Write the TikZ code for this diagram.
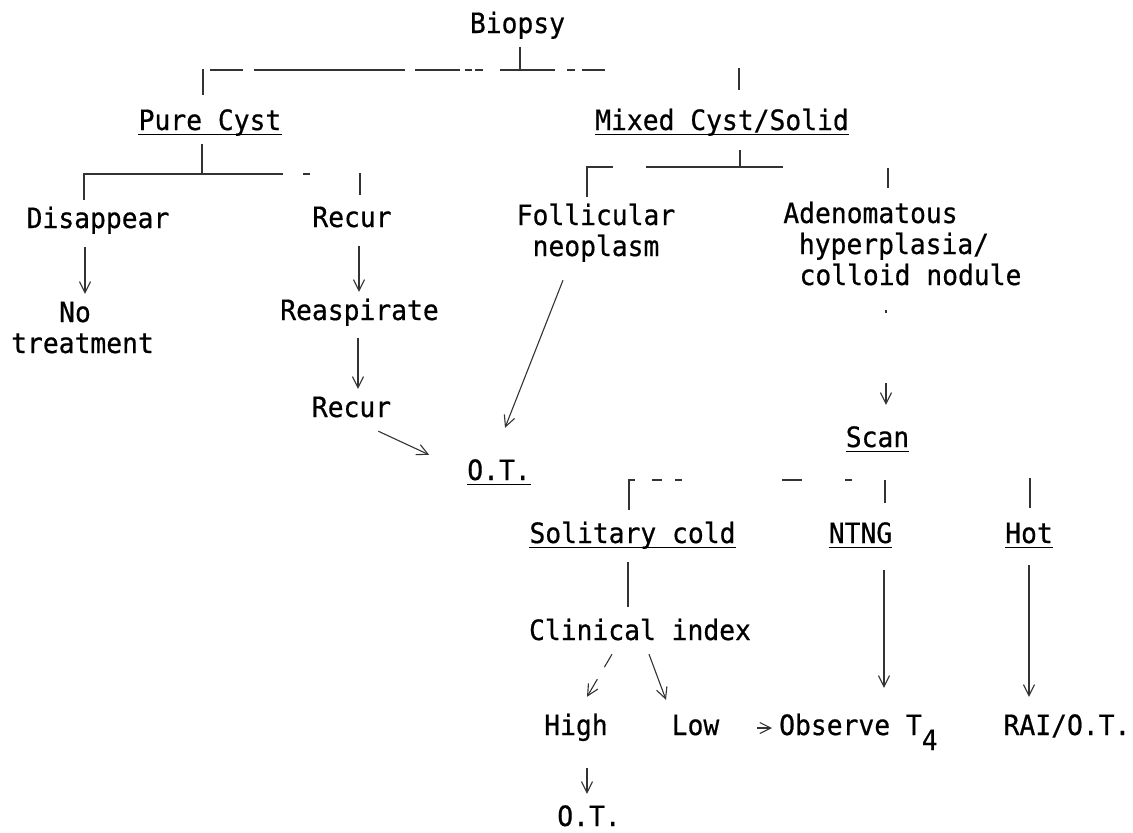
\documentclass[tikz,border=0pt]{standalone}
\usepackage{fontspec}
\newfontfamily\tw[FakeStretch=0.94,FakeBold=0.6]{DejaVu Sans Mono}
\usetikzlibrary{arrows.meta}
\begin{document}
\begin{tikzpicture}[x=1bp,y=-1bp,
  txt/.style={font=\tw\fontsize{28bp}{31bp}\selectfont, inner xsep=0pt, inner ysep=8bp,
              text height=20bp, text depth=6bp, anchor=base},
  ln/.style={line width=1.1bp, draw=black!80},
  arr/.style={ln, -{Straight Barb[length=11bp,width=11bp]}},
  ulline/.style={line width=1.8bp, draw=black}]
\fill[white] (0,0) rectangle (1133,833);
\useasboundingbox (0,0) rectangle (1133,833);

% ---- text nodes ----
\node[txt] (biopsy) at (517.5,33) {Biopsy};
\node[txt] (pure) at (210,130) {Pure Cyst};
\node[txt] (mixed) at (722,130) {Mixed Cyst/Solid};
\node[txt] (disappear) at (98,228) {Disappear};
\node[txt] (recur1) at (352,227) {Recur};
\node[txt] (follicular) at (596,225) {Follicular};
\node[txt] (neoplasm) at (596,256) {neoplasm};
\node[txt] (adeno1) at (870.5,223) {Adenomatous};
\node[txt] (adeno2) at (894,254) {hyperplasia/};
\node[txt] (adeno3) at (910.5,285) {colloid nodule};
\node[txt] (no) at (75,322) {No};
\node[txt] (treatment) at (82.5,353) {treatment};
\node[txt] (reasp) at (359.5,320) {Reaspirate};
\node[txt] (recur2) at (351.5,417) {Recur};
\node[txt] (ot1) at (499,480) {O.T.};
\node[txt] (scan) at (877.5,447) {Scan};
\node[txt] (solitary) at (632.5,543) {Solitary cold};
\node[txt] (ntng) at (860.5,543) {NTNG};
\node[txt] (hot) at (1029,543) {Hot};
\node[txt] (clinical) at (640,640) {Clinical index};
\node[txt] (high) at (576,735) {High};
\node[txt] (low) at (695.5,735) {Low};
\node[txt, anchor=base west] (observe) at (779,735) {Observe T\raisebox{-15bp}{4}};
\node[txt] (rai) at (1067,735) {RAI/O.T.};
\node[txt] (ot2) at (589,826) {O.T.};

% ---- underlines ----
\foreach \n in {pure,mixed,ot1,scan,solitary,ntng,hot}
  \draw[ulline] ([yshift=-4.5bp]\n.base west) -- ([yshift=-4.5bp]\n.base east);

% ---- Biopsy bracket ----
\coordinate (j0) at (520,70);
\coordinate (pl) at (203,70);
\coordinate (pr) at (605,70);
\draw[ln] (biopsy.south -| j0) -- (j0);
\draw[ln, shorten <=7bp,
  dash pattern=on 25bp off 7bp on 33bp off 11bp on 151bp off 10bp on 45bp off 5bp on 7bp off 3bp on 8bp off 17bp on 55bp off 12bp on 8bp off 7bp on 23bp off 20bp]
  (pure.north -| pl) -- (pl) -- (pr);
\coordinate (mr) at (739,68);
\draw[ln, shorten >=12bp] (mr) -- (mr |- mixed.north);

% ---- Pure Cyst bracket ----
\coordinate (pj) at (202,174);
\coordinate (pc) at (84,174);
\coordinate (pe) at (310,174);
\draw[ln] (pure.south -| pj) -- (pj);
\draw[ln, dash pattern=on 225bp off 20bp on 7bp off 20bp] (disappear.north -| pc) -- (pc) -- (pe);
\coordinate (rt) at (360,173);
\draw[ln, shorten >=4bp] (rt) -- (rt |- recur1.north);

% ---- Mixed bracket ----
\coordinate (mj) at (740,167);
\coordinate (mc) at (587,167);
\coordinate (me) at (783,167);
\draw[ln, shorten <=6bp] (mixed.south -| mj) -- (mj);
\draw[ln, dash pattern=on 56bp off 33bp on 137bp off 20bp] (follicular.north -| mc) -- (mc) -- (me);
\draw[line width=2.2bp, draw=black!80] (mc) -- ++(26,0);
\coordinate (at) at (888,168);
\draw[ln, shorten >=7bp] (at) -- (at |- adeno1.north);

% ---- arrows, left part ----
\draw[arr, shorten <=5bp] ([xshift=-13bp]disappear.south) -- ([xshift=-13bp]disappear.south |- no.north);
\draw[arr, shorten <=5bp] ([xshift=7bp]recur1.south) -- ([xshift=7bp]recur1.south |- reasp.north);
\draw[arr, shorten <=4bp] ([xshift=-1.5bp]reasp.south) -- ([xshift=-1.5bp]reasp.south |- recur2.north);
\draw[arr] ([xshift=-13bp]recur2.south east) -- ([xshift=-38bp,yshift=-3bp]ot1.north west);
\draw[arr] ([xshift=-33bp,yshift=-10bp]neoplasm.south) -- ([xshift=6bp,yshift=24bp]ot1.north);

% ---- adenomatous to scan ----
\draw[arr, shorten <=11bp, shorten >=14bp, dash pattern=on 3bp off 70bp on 30bp off 20bp]
  ([xshift=8.5bp]scan.north |- adeno3.south) -- ([xshift=8.5bp]scan.north);

% ---- Scan bracket ----
\coordinate (s1) at (629,480);
\coordinate (s2) at (885,480);
\draw[ln, shorten <=5bp, shorten >=12bp,
  dash pattern=on 36bp off 17bp on 10bp off 13bp on 7bp off 100bp on 20bp off 43bp on 7bp off 33bp on 23bp off 20bp]
  (solitary.north -| s1) -- (s1) -- (s2) -- (s2 |- ntng.north);
\coordinate (h1) at (1030,478);
\draw[ln, shorten >=7bp] (h1) -- (h1 |- hot.north);

% ---- lower part ----
\draw[ln, shorten <=5bp, shorten >=5bp] ([xshift=-4.5bp]solitary.south) -- ([xshift=-4.5bp]solitary.south |- clinical.north);
\draw[arr, dash pattern=on 15bp off 14bp on 40bp] ([xshift=-28bp]clinical.south) -- ([xshift=11bp,yshift=10bp]high.north);
\draw[arr] ([xshift=9bp]clinical.south) -- ([xshift=-29.5bp,yshift=7bp]low.north);
\draw[arr, shorten <=38bp, shorten >=7bp] (low.east) -- (observe.west);
\draw[arr, shorten <=13bp, shorten >=19bp] ([xshift=23.5bp]ntng.south) -- ([xshift=23.5bp]ntng.south |- observe.north);
\draw[arr, shorten <=8bp, shorten >=10bp] (hot.south) -- (hot.south |- rai.north);
\draw[arr, shorten <=19bp, shorten >=4bp] ([xshift=11bp]high.south) -- ([xshift=11bp]high.south |- ot2.north);
\end{tikzpicture}
\end{document}
